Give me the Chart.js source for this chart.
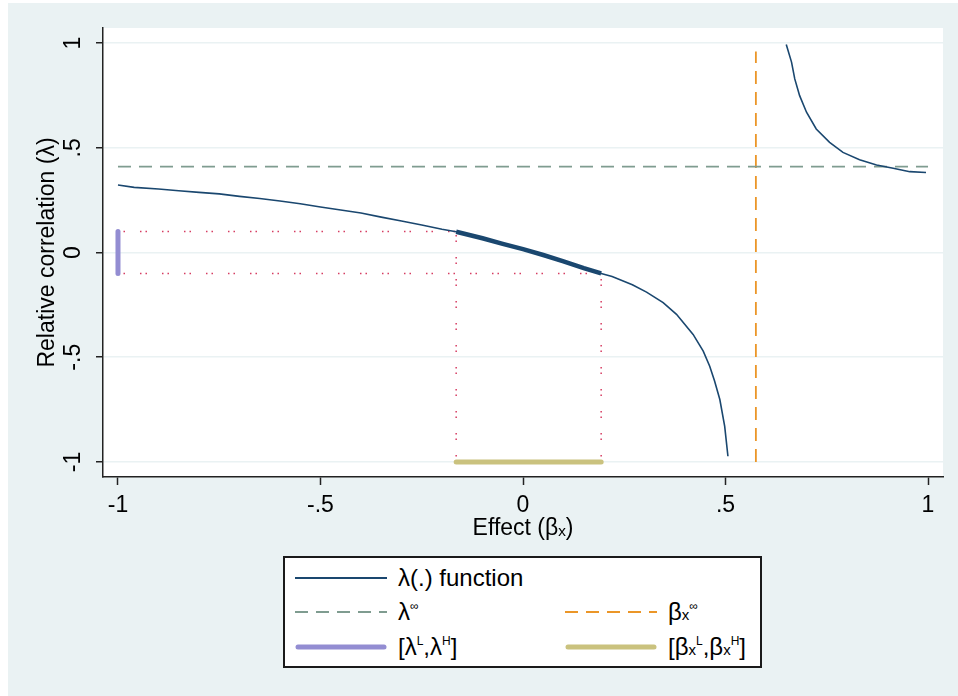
<!DOCTYPE html>
<html>
<head>
<meta charset="utf-8">
<script src="https://cdn.jsdelivr.net/npm/chart.js@4.4.1/dist/chart.umd.min.js"></script>
<style>
  body { margin: 0; background: #fff; width: 958px; height: 696px; overflow: hidden; position: relative;
         font-family: "Liberation Sans", Arial, sans-serif; }
  #bg { position: absolute; left: 8px; top: 3px; right: 0; bottom: 0; background: #eaf2f3; }
  #chart { position: absolute; left: 0; top: 0; }
  #legend { position: absolute; left: 283px; top: 556px; width: 475px; height: 108px;
            background: #fff; border: 2px solid #1a1a1a; }
  .item { position: absolute; height: 30px; display: flex; align-items: center;
          font-size: 24px; color: #000; white-space: nowrap; }
  .item svg { width: 92px; height: 10px; margin-right: 11px; flex: none; }
  sup { font-size: 12px; vertical-align: 10px; line-height: 0; }
  .sub { font-size: 15px; }
</style>
</head>
<body>
<div id="bg"></div>
<canvas id="chart" width="958" height="696"></canvas>
<div id="legend"></div>
<script>
// --- data ---
const betaLeft = [-1.0, -0.96, -0.90, -0.85, -0.80, -0.75, -0.70, -0.65, -0.60, -0.55, -0.50,
  -0.45, -0.40, -0.35, -0.30, -0.25, -0.20, -0.165, -0.10, -0.05, 0.0, 0.05, 0.10, 0.15, 0.193,
  0.22, 0.27, 0.305, 0.346, 0.379, 0.42, 0.445, 0.461, 0.473, 0.486, 0.498, 0.506];
const lambdaLeft = [0.322, 0.311, 0.303, 0.295, 0.287, 0.280, 0.268, 0.258, 0.246, 0.233, 0.217,
  0.203, 0.189, 0.169, 0.150, 0.131, 0.111, 0.099, 0.068, 0.041, 0.016, -0.012, -0.042, -0.075, -0.100,
  -0.115, -0.154, -0.189, -0.239, -0.295, -0.391, -0.471, -0.543, -0.614, -0.702, -0.830, -0.973];
const betaRight = [0.650, 0.663, 0.671, 0.683, 0.700, 0.724, 0.757, 0.790, 0.831, 0.873, 0.914, 0.955, 0.995];
const lambdaRight = [0.993, 0.909, 0.829, 0.749, 0.670, 0.590, 0.526, 0.478, 0.443, 0.418, 0.402, 0.386, 0.382];

const lambdaInf = 0.41;
const betaInf = 0.575;
const betaInfTop = 0.96;
const lambdaBounds = [-0.1, 0.1];     // [lambda L, lambda H]
const betaBounds = [-0.165, 0.193];   // [beta L, beta H]

const xTicks = [-1, -0.5, 0, 0.5, 1];
const xTickLabels = ['-1', '-.5', '0', '.5', '1'];
const yTicks = [-1, -0.5, 0, 0.5, 1];
const yTickLabels = ['-1', '-.5', '0', '.5', '1'];
const xRange = [-1.037, 1.037];
const yRange = [-1.072, 1.072];

const NAVY = '#1a476f', TEAL = '#7f9c90', ORANGE = '#eb9628', RED = '#d63c62',
      LAVENDER = '#938dd2', KHAKI = '#cac27e';
const FONT = '"Liberation Sans", Arial, sans-serif';
Chart.defaults.font.family = FONT;

const pts = (xs, ys) => xs.map((x, i) => ({ x: x, y: ys[i] }));
const curveLeft = pts(betaLeft, lambdaLeft);
const curveRight = pts(betaRight, lambdaRight);
const curveIn = curveLeft.filter(p => p.x >= betaBounds[0] && p.x <= betaBounds[1]);

function line(data, color, width, dash, cap) {
  return { data: data, showLine: true, borderColor: color, borderWidth: width,
           borderDash: dash || [], borderCapStyle: cap || 'butt', pointRadius: 0, tension: 0, fill: false };
}

const dots = [1.5, 4, 1.5, 15];
const datasets = [
  line(curveIn, NAVY, 4.5),
  line(curveLeft, NAVY, 1.6),
  line(curveRight, NAVY, 1.6),
  line([{ x: xTicks[0], y: lambdaBounds[0] }, { x: xTicks[0], y: lambdaBounds[1] }], LAVENDER, 5, null, 'round'),
  line([{ x: betaBounds[0], y: yTicks[0] }, { x: betaBounds[1], y: yTicks[0] }], KHAKI, 5, null, 'round'),
  line([{ x: xTicks[0], y: lambdaInf }, { x: xTicks[4], y: lambdaInf }], TEAL, 1.8, [13, 8]),
  line([{ x: betaInf, y: yTicks[0] }, { x: betaInf, y: betaInfTop }], ORANGE, 1.8, [13, 8]),
  line([{ x: xTicks[0], y: lambdaBounds[1] }, { x: betaBounds[0], y: lambdaBounds[1] }], RED, 1.5, dots),
  line([{ x: xTicks[0], y: lambdaBounds[0] }, { x: betaBounds[1], y: lambdaBounds[0] }], RED, 1.5, dots),
  line([{ x: betaBounds[0], y: yTicks[0] }, { x: betaBounds[0], y: lambdaBounds[1] }], RED, 1.5, dots),
  line([{ x: betaBounds[1], y: yTicks[0] }, { x: betaBounds[1], y: lambdaBounds[0] }], RED, 1.5, dots)
];

// white plot region
const plotBg = {
  id: 'plotBg',
  beforeDraw(chart) {
    const a = chart.chartArea, ctx = chart.ctx;
    ctx.save();
    ctx.fillStyle = '#fff';
    ctx.fillRect(a.left, a.top, a.right - a.left, a.bottom - a.top);
    ctx.restore();
  }
};

// Stata-style vertical y tick labels
const yLabels = {
  id: 'yLabels',
  afterDraw(chart) {
    const ctx = chart.ctx, y = chart.scales.y;
    ctx.save();
    ctx.font = '23px ' + FONT;
    ctx.fillStyle = '#000';
    ctx.textAlign = 'center';
    ctx.textBaseline = 'middle';
    yTicks.forEach((v, i) => {
      ctx.save();
      ctx.translate(y.left + 40, y.getPixelForValue(v));
      ctx.rotate(-Math.PI / 2);
      ctx.fillText(yTickLabels[i], 0, 0);
      ctx.restore();
    });
    ctx.restore();
  }
};

new Chart(document.getElementById('chart'), {
  type: 'scatter',
  data: { datasets: datasets },
  plugins: [plotBg, yLabels],
  options: {
    responsive: false,
    animation: false,
    layout: { padding: { left: 34, top: 28, right: 15, bottom: 154 } },
    plugins: { legend: { display: false }, tooltip: { enabled: false } },
    scales: {
      x: {
        type: 'linear', min: xRange[0], max: xRange[1],
        border: { color: '#222', width: 1.5 },
        grid: { drawOnChartArea: false, tickLength: 8, tickColor: '#222', tickWidth: 1.5 },
        ticks: { color: '#000', font: { size: 23 }, padding: 7, maxRotation: 0, autoSkip: false,
                 callback: (v, i) => xTickLabels[i] },
        title: { display: true, text: 'Effect (βₓ)', color: '#000', font: { size: 23 }, padding: 0 },
        afterBuildTicks: s => { s.ticks = xTicks.map(v => ({ value: v })); },
        afterFit: s => { s.height = 65; }
      },
      y: {
        type: 'linear', min: yRange[0], max: yRange[1],
        border: { color: '#222', width: 1.5 },
        grid: { color: '#eaf2f3', lineWidth: 1.5, tickLength: 7, tickColor: '#222', tickWidth: 1.5 },
        ticks: { display: false },
        title: { display: true, text: 'Relative correlation (λ)', color: '#000', font: { size: 23 }, padding: 0 },
        afterBuildTicks: s => { s.ticks = yTicks.map(v => ({ value: v })); },
        afterFit: s => { s.width = 69; }
      }
    }
  }
});

// legend
const legendItems = [
  { left: 10, top: 5, color: NAVY, width: 2, dash: '', label: 'λ(.) function' },
  { left: 10, top: 39, color: TEAL, width: 2, dash: '13 8', label: 'λ<sup>∞</sup>' },
  { left: 280, top: 39, color: ORANGE, width: 2, dash: '13 8', label: 'β<span class="sub">x</span><sup>∞</sup>' },
  { left: 10, top: 74, color: LAVENDER, width: 5, dash: '', label: '[λ<sup>L</sup>,λ<sup>H</sup>]' },
  { left: 280, top: 74, color: KHAKI, width: 5, dash: '', label: '[β<span class="sub">x</span><sup>L</sup>,β<span class="sub">x</span><sup>H</sup>]' }
];
const legend = document.getElementById('legend');
legendItems.forEach(it => {
  const d = document.createElement('div');
  d.className = 'item';
  d.style.left = it.left + 'px';
  d.style.top = it.top + 'px';
  const cap = it.width > 3 ? 'round' : 'butt';
  const x1 = it.width > 3 ? 3 : 0, x2 = it.width > 3 ? 89 : 92;
  d.innerHTML = `<svg viewBox="0 0 92 10"><line x1="${x1}" y1="5" x2="${x2}" y2="5" stroke="${it.color}"
    stroke-width="${it.width}" stroke-dasharray="${it.dash}" stroke-linecap="${cap}"/></svg><span>${it.label}</span>`;
  legend.appendChild(d);
});
</script>
</body>
</html>
